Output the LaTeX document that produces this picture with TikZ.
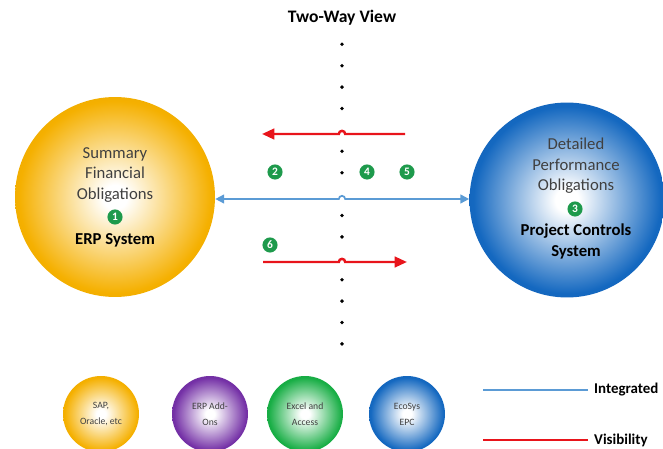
\documentclass[tikz,border=0pt]{standalone}
\usepackage{fontspec}
\setmainfont{Carlito}
\usetikzlibrary{arrows.meta}

\definecolor{erpgold}{HTML}{F5B000}
\definecolor{pcsblue}{HTML}{1468C0}
\definecolor{addpurple}{HTML}{7430A6}
\definecolor{xlgreen}{HTML}{18AE45}
\definecolor{badgegreen}{HTML}{1E9A4C}
\definecolor{intblue}{HTML}{5B9BD5}
\definecolor{visred}{HTML}{E8141B}
\definecolor{bodytext}{HTML}{404040}

\colorlet{ballcol}{erpgold}
\pgfdeclareradialshading[ballcol]{glow}{\pgfpoint{0bp}{0bp}}{color(0bp)=(white); color(3bp)=(white); color(24bp)=(ballcol); color(33bp)=(ballcol!92!black); color(50bp)=(ballcol!85!black)}

\tikzset{
  ball/.style={circle, inner sep=0pt, /utils/exec={\colorlet{ballcol}{#1}}, shading=glow},
  badge/.style={circle, fill=badgegreen, text=white, inner sep=0pt, minimum size=8.6pt,
    font=\fontsize{6.5}{6.5}\selectfont\bfseries},
  bigtext/.style={align=center, text=bodytext, font=\fontsize{9.5}{11.6}\selectfont},
  bigbold/.style={align=center, text=black, font=\fontsize{9.5}{11.6}\selectfont\bfseries},
  smalltext/.style={align=center, text=bodytext, font=\fontsize{5.5}{9}\selectfont},
  keytext/.style={anchor=west, font=\fontsize{8.5}{10}\selectfont\bfseries},
  integ/.style={draw=intblue, line width=1pt},
  visib/.style={draw=visred, line width=1.4pt}
}

\begin{document}
\begin{tikzpicture}[x=0.02cm, y=0.02cm]
  \useasboundingbox (0,0) rectangle (663,-449);

  % main systems
  \node[ball=erpgold, minimum size=4cm] (erp) at (115,-197) {};
  \node[ball=pcsblue, minimum size=3.9cm] (pcs) at (567,-200) {};

  \node[bigtext] (erptxt) at (115,-175) {Summary\\Financial\\Obligations};
  \node[badge] (b1) at (115,-217) {1};
  \node[bigbold] (erpname) at (115,-240) {ERP System};

  \node[bigtext] (pcstxt) at (576,-166) {Detailed\\Performance\\Obligations};
  \node[badge] (b3) at (575,-209) {3};
  \node[bigbold] (pcsname) at (576,-241.5) {Project Controls\\System};

  % two-way view
  \node[font=\fontsize{10}{12}\selectfont\bfseries] (title) at (342,-18) {Two-Way View};
  \foreach \i in {0,1,2,3,5,6,8,9,11,12,13,14}
    \fill (342,-44.3-\i*21.4) circle (1.1pt);

  \coordinate (hopA) at (342,-134);
  \coordinate (hopB) at (342,-199);
  \coordinate (hopC) at (342,-262);
  \coordinate (visA) at (405,-134);
  \coordinate (visB) at (262,-134);
  \coordinate (visC) at (263,-262);
  \coordinate (visD) at (407,-262);

  \draw[visib, -{Triangle[length=7pt, width=6pt]}] (visA) -- ([xshift=1.8pt]hopA) arc (0:180:1.8pt) -- (visB);
  \draw[integ, {Triangle[length=5pt, width=5pt]}-{Triangle[length=5pt, width=5pt]}]
    (erp.east |- hopB) -- ([xshift=-1.8pt]hopB) arc (180:0:1.8pt) -- (pcs.west |- hopB);
  \draw[visib, -{Triangle[length=7pt, width=6pt]}] (visC) -- ([xshift=-1.8pt]hopC) arc (180:0:1.8pt) -- (visD);

  \node[badge] (b2) at (275,-172) {2};
  \node[badge] (b4) at (367,-172) {4};
  \node[badge] (b5) at (407,-172) {5};
  \node[badge] (b6) at (270,-245) {6};

  % tools
  \node[ball=erpgold, minimum size=1.52cm] (sap) at (101,-414) {};
  \node[ball=addpurple, minimum size=1.52cm] (addon) at (210,-414) {};
  \node[ball=xlgreen, minimum size=1.52cm] (excel) at (305,-414) {};
  \node[ball=pcsblue, minimum size=1.52cm] (ecosys) at (407,-414) {};
  \node[smalltext] at (sap) {SAP,\\Oracle, etc};
  \node[smalltext] at (addon) {ERP Add-\\Ons};
  \node[smalltext] at (excel) {Excel and\\Access};
  \node[smalltext] at (ecosys) {EcoSys\\EPC};

  % key
  \coordinate (intA) at (483,-390);
  \coordinate (visE) at (483,-440);
  \node[keytext] (inttxt) at (588,-390) {Integrated};
  \node[keytext] (vistxt) at (588,-440) {Visibility};
  \draw[integ] (intA) -- (inttxt.west);
  \draw[visib] (visE) -- (vistxt.west);
\end{tikzpicture}
\end{document}
